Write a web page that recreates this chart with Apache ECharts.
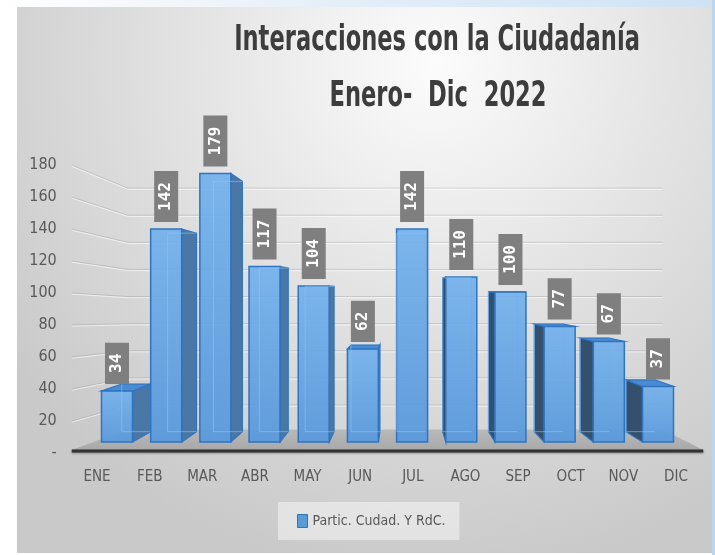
<!DOCTYPE html>
<html><head><meta charset="utf-8">
<script src="https://cdn.jsdelivr.net/npm/echarts@6/dist/echarts.min.js"></script>
<style>html,body{margin:0;padding:0;background:#fff;}#c{width:715px;height:555px;}</style>
</head><body><div id="c"></div>
<script>
const categories = ['ENE','FEB','MAR','ABR','MAY','JUN','JUL','AGO','SEP','OCT','NOV','DIC'];
const values = [34,142,179,117,104,62,142,110,100,77,67,37];
const yTicks = [0,20,40,60,80,100,120,140,160,180];
const seriesName = 'Partic. Cudad. Y RdC.';
const titleLines = ['Interacciones con la Ciudadanía','Enero-  Dic  2022'];

const NARROW = "'Liberation Sans Narrow','DejaVu Sans Condensed',sans-serif";
const chart = echarts.init(document.getElementById('c'), null, {renderer:'canvas'});

// perspective used for the 3D columns
const BV = [400, 290], BK = 0.068;
// perspective used for the walls / floor
const WV = [438, 316], WK = 0.153;
function toward(p, V, K){ return [p[0] + K*(V[0]-p[0]), p[1] + K*(V[1]-p[1])]; }

function renderWall(params, api){
  const v = api.value(1);
  const cs = params.coordSys;
  const xl = cs.x + 1, xr = cs.x + cs.width + 1;
  const yf = api.coord([0, v])[1];
  const children = [];
  if (v === 0) {
    const fy = yf - 3;
    const fl = [xl, fy], fr = [xr, fy];
    const bl = toward(fl, WV, WK), br = toward(fr, WV, WK);
    children.push({type:'polygon', shape:{points:[fl, bl, br, fr]},
      style:{fill: new echarts.graphic.LinearGradient(0,0,0,1,[{offset:0,color:'#b9b9b9'},{offset:1,color:'#a9a9a9'}])}});
    children.push({type:'line', shape:{x1:xl, y1:yf-2, x2:xr, y2:yf-2},
      style:{stroke:'#333333', lineWidth:3, shadowBlur:2, shadowColor:'rgba(0,0,0,0.35)', shadowOffsetY:1}});
  } else {
    const f = [xl, yf];
    const b = toward(f, WV, WK);
    const b2 = toward([xr, yf], WV, WK);
    children.push({type:'polyline', shape:{points:[f, b, b2]}, style:{stroke:'rgba(150,150,150,0.35)', lineWidth:1, fill:null}});
    children.push({type:'polyline', shape:{points:[[f[0],f[1]+1.2],[b[0],b[1]+1.2],[b2[0],b2[1]+1.2]]}, style:{stroke:'rgba(255,255,255,0.6)', lineWidth:1, fill:null}});
  }
  return {type:'group', children};
}

function renderBar(params, api){
  const i = api.value(0), v = api.value(1);
  const top = api.coord([i, v]), base = api.coord([i, 0]);
  const hw = 15.5;
  const Ftl = [top[0]-hw, top[1]], Ftr = [top[0]+hw, top[1]], Fbr = [top[0]+hw, base[1]], Fbl = [top[0]-hw, base[1]];
  const Btl = toward(Ftl, BV, BK), Btr = toward(Ftr, BV, BK), Bbr = toward(Fbr, BV, BK), Bbl = toward(Fbl, BV, BK);
  const edge = '#2e74c0';
  const inner = 'rgba(160,205,248,0.9)';
  const ch = [];
  ch.push({type:'polyline', shape:{points:[Btl, Btr, Bbr, Bbl, Btl]}, style:{stroke:inner, lineWidth:1, fill:null}});
  if (Ftr[0] < BV[0]) {
    ch.push({type:'polygon', shape:{points:[Ftr, Btr, Bbr, Fbr]}, style:{fill:'#4b77a6', stroke:edge, lineWidth:1.2}});
  }
  if (Ftl[0] > BV[0]) {
    ch.push({type:'polygon', shape:{points:[Ftl, Btl, Bbl, Fbl]}, style:{fill:'#34506c', stroke:edge, lineWidth:1.2}});
  }
  if (Ftl[1] > BV[1]) {
    ch.push({type:'polygon', shape:{points:[Ftl, Ftr, Btr, Btl]}, style:{fill:'#4b8bd2', stroke:edge, lineWidth:1.2}});
  }
  ch.push({type:'rect', shape:{x:Ftl[0], y:Ftl[1], width:2*hw, height:base[1]-top[1]},
    style:{fill: new echarts.graphic.LinearGradient(0,0,0,1,[{offset:0,color:'rgba(112,176,236,0.9)'},{offset:1,color:'rgba(88,152,220,0.93)'}]), stroke:edge, lineWidth:1.5}});
  ch.push({type:'polyline', shape:{points:[[Btl[0],Btl[1]],[Bbl[0],Bbl[1]],[Bbr[0],Bbr[1]]]}, style:{stroke:'rgba(150,200,245,0.55)', lineWidth:1, fill:null}});
  if (Btl[1] > Ftl[1]) {
    ch.push({type:'line', shape:{x1:Btl[0], y1:Btl[1], x2:Btr[0], y2:Btr[1]}, style:{stroke:'rgba(150,200,245,0.55)', lineWidth:1}});
  }
  ch.push({type:'text', x: top[0], y: top[1]-7, rotation: Math.PI/2,
    style:{text:String(v), fill:'#ffffff', font:'bold 16px "DejaVu Sans Mono", monospace',
      backgroundColor:'#7f7f7f', padding:[4,11,4,11], align:'left', verticalAlign:'middle', lineHeight:16}});
  return {type:'group', children: ch};
}

const option = {
  animation:false,
  backgroundColor:'#ffffff',
  graphic:[
    {type:'rect', z:-20, shape:{x:0,y:0,width:715,height:7}, style:{fill:new echarts.graphic.LinearGradient(0,0,1,0,[{offset:0,color:'#ffffff'},{offset:0.45,color:'#e6eff8'},{offset:1,color:'#cfe2f3'}])}},
    {type:'rect', z:-20, shape:{x:712,y:0,width:3,height:555}, style:{fill:'#bcd6ef'}},
    {type:'rect', z:-19, shape:{x:17,y:7,width:695,height:546}, style:{fill:new echarts.graphic.RadialGradient(0.6,0.1,0.95,[{offset:0,color:'#fcfcfc'},{offset:0.45,color:'#e4e4e4'},{offset:1,color:'#c9c9c9'}])}},
    {type:'text', z:5, x:437, y:41, scaleX:0.81, scaleY:1.13, style:{text:titleLines[0], fill:'#3d3d3d', font:'bold 31px '+NARROW, align:'center', verticalAlign:'middle'}},
    {type:'text', z:5, x:438, y:97, scaleX:0.81, scaleY:1.13, style:{text:titleLines[1], fill:'#3d3d3d', font:'bold 31px '+NARROW, align:'center', verticalAlign:'middle'}}
  ],
  legend:{left:278, top:502, padding:[12,14,12,19], backgroundColor:'rgba(245,245,245,0.55)', itemWidth:10, itemHeight:13, itemGap:0,
    textStyle:{fontSize:14, color:'#595959', fontFamily:NARROW},
    data:[{name:seriesName, icon:'rect', itemStyle:{color:'#5b9bd5', borderColor:'#2e75b6', borderWidth:1}}]},
  grid:[
    {left:70.7, right:12.7, top:165, bottom:102},
    {left:92.4, right:32.4, top:172, bottom:113}
  ],
  xAxis:[
    {type:'category', gridIndex:0, data:categories, axisLine:{show:false}, axisTick:{show:false},
      axisLabel:{margin:17, fontSize:15, color:'#595959', fontFamily:NARROW}},
    {type:'category', gridIndex:1, data:categories, show:false}
  ],
  yAxis:[
    {type:'value', gridIndex:0, min:0, max:180, interval:20, splitLine:{show:false}, axisLine:{show:false}, axisTick:{show:false},
      axisLabel:{formatter:v => v === 0 ? '-' : String(v), fontSize:16, color:'#595959', fontFamily:NARROW, margin:14}},
    {type:'value', gridIndex:1, min:0, max:180, show:false}
  ],
  series:[
    {name:'walls', type:'custom', xAxisIndex:0, yAxisIndex:0, z:1, silent:true, clip:false,
      data: yTicks.map(v => [0, v]), encode:{x:0, y:1}, renderItem: renderWall},
    {name:seriesName, type:'custom', xAxisIndex:1, yAxisIndex:1, z:3, clip:false,
      itemStyle:{color:'#5b9bd5'},
      data: values.map((v, i) => [i, v]), encode:{x:0, y:1}, renderItem: renderBar}
  ]
};
chart.setOption(option);
</script></body></html>
